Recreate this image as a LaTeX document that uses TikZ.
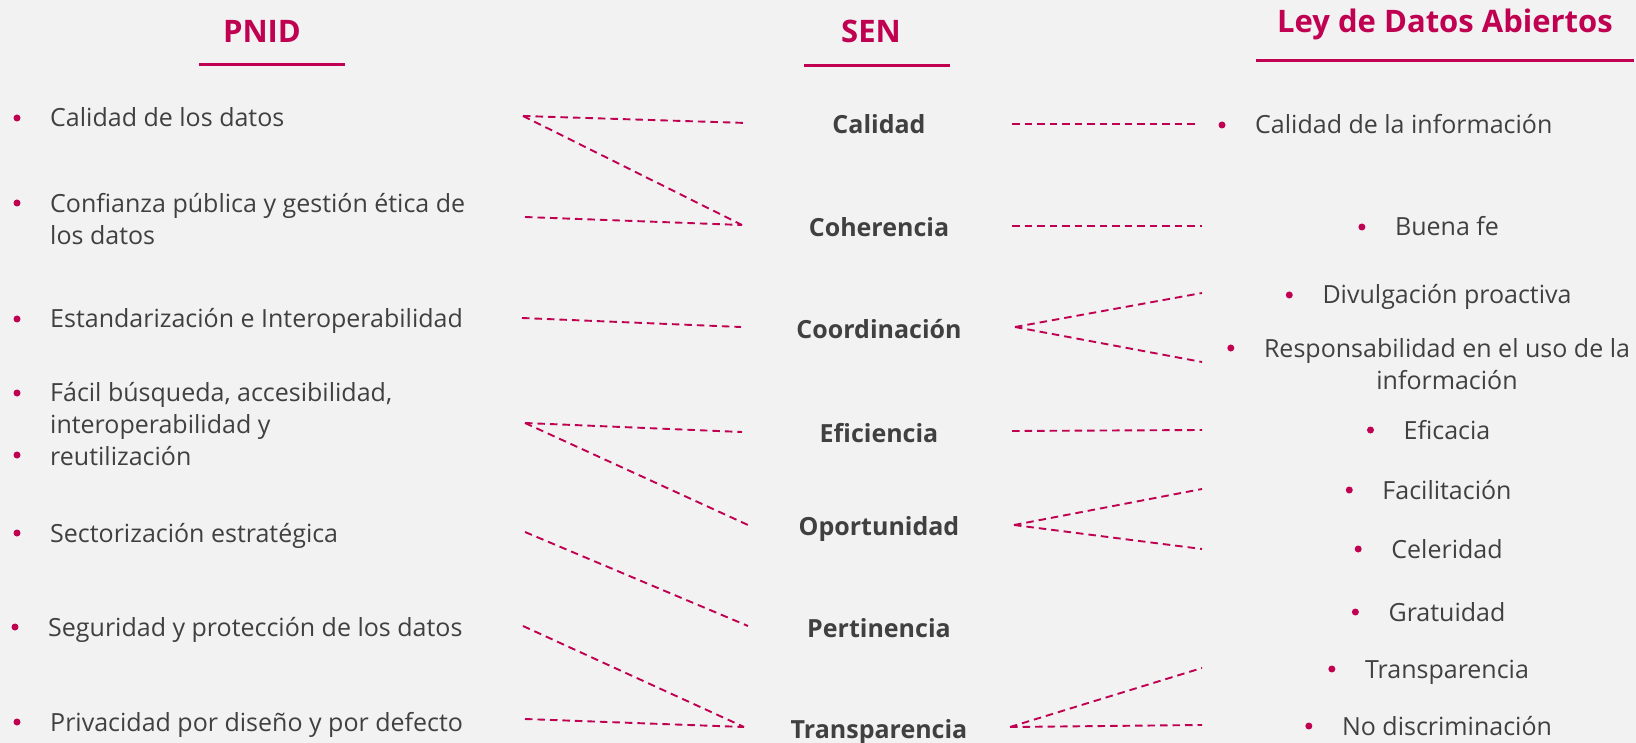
\documentclass[tikz,border=0pt]{standalone}
\usepackage{fontspec}
\setmainfont{Open Sans}
\definecolor{rosa}{RGB}{192,0,80}
\definecolor{gris}{RGB}{64,64,64}
\definecolor{fondo}{RGB}{242,242,242}
\tikzset{
    head/.style={text=rosa, font=\fontsize{31}{36}\selectfont\bfseries, inner sep=0pt, anchor=base},
    item/.style={text=gris, font=\fontsize{25}{32}\selectfont, inner sep=0pt},
    principio/.style={text=gris, font=\fontsize{25}{32}\selectfont\bfseries, inner sep=0pt, anchor=base},
    bul/.style={circle, fill=rosa, inner sep=0pt, minimum size=7pt},
    link/.style={rosa, line width=1.9pt, dash pattern=on 7.5pt off 5pt},
    rule/.style={rosa, line width=3pt}
}
\begin{document}
\begin{tikzpicture}[x=1pt, y=-1pt]
    \fill[fondo] (0,0) rectangle (1636,743);
    \useasboundingbox (0,0) rectangle (1636,743);
    % headers
    \node[head] (pnid) at (262, 43) {PNID};
    \node[head] (sen) at (871, 43) {SEN};
    \node[head] (ley) at (1445, 33) {Ley de Datos Abiertos};
    \draw[rule] (199, 65) -- (345, 65);
    \draw[rule] (804, 66) -- (950, 66);
    \draw[rule] (1256, 61) -- (1634, 61);
    % PNID
    \node[item, anchor=base west] (p1) at (50, 127) {Calidad de los datos};
    \node[item, anchor=base west, align=left] (p2) at (50, 245) {Confianza pública y gestión ética de\\los datos};
    \node[item, anchor=base west] (p3) at (50, 328) {Estandarización e Interoperabilidad};
    \node[item, anchor=base west, align=left] (p4) at (50, 465) {Fácil búsqueda, accesibilidad,\\interoperabilidad y\\reutilización};
    \node[item, anchor=base west] (p5) at (50, 542) {Sectorización estratégica};
    \node[item, anchor=base west] (p6) at (48, 636) {Seguridad y protección de los datos};
    \node[item, anchor=base west] (p7) at (50, 731) {Privacidad por diseño y por defecto};
    \node[bul] (bp1) at (17, 118) {};
    \node[bul] (bp2) at (17, 203) {};
    \node[bul] (bp3) at (17, 319) {};
    \node[bul] (bp4) at (17, 393) {};
    \node[bul] (bp4b) at (17, 455) {};
    \node[bul] (bp5) at (17, 533) {};
    \node[bul] (bp6) at (15, 627) {};
    \node[bul] (bp7) at (17, 722) {};
    % SEN
    \node[principio] (s1) at (879, 134) {Calidad};
    \node[principio] (s2) at (879, 237) {Coherencia};
    \node[principio] (s3) at (879, 338) {Coordinación};
    \node[principio] (s4) at (879, 442) {Eficiencia};
    \node[principio] (s5) at (879, 535) {Oportunidad};
    \node[principio] (s6) at (879, 637) {Pertinencia};
    \node[principio] (s7) at (879, 738) {Transparencia};
    % Ley de Datos Abiertos
    \node[item, anchor=base west] (l1) at (1255, 134) {Calidad de la información};
    \node[item, anchor=base] (l2) at (1447, 236) {Buena fe};
    \node[item, anchor=base] (l3) at (1447, 304) {Divulgación proactiva};
    \node[item, anchor=base, align=center] (l4) at (1447, 389) {Responsabilidad en el uso de la\\información};
    \node[item, anchor=base] (l5) at (1447, 439) {Eficacia};
    \node[item, anchor=base] (l6) at (1447, 499) {Facilitación};
    \node[item, anchor=base] (l7) at (1447, 558) {Celeridad};
    \node[item, anchor=base] (l8) at (1447, 621) {Gratuidad};
    \node[item, anchor=base] (l9) at (1447, 678) {Transparencia};
    \node[item, anchor=base] (l10) at (1447, 735) {No discriminación};
    \node[bul] (bl1) at (1222, 125) {};
    \node[bul] (bl4) at ([xshift=-33pt, yshift=41pt]l4.base west) {};
    \foreach \i in {2,3,5,6,7,8,9,10}
        \node[bul] (bl\i) at ([xshift=-33pt, yshift=9pt]l\i.base west) {};
    % connector ends
    \coordinate (pe1) at (523, 116);
    \coordinate (pe2) at (525, 217);
    \coordinate (pe3) at (522, 318);
    \coordinate (pe4) at (525, 423);
    \coordinate (pe5) at (525, 532);
    \coordinate (pe6) at (523, 626);
    \coordinate (pe7) at (525, 719);
    \coordinate (sw1) at (747, 123);
    \coordinate (sw2) at (742, 225);
    \coordinate (sw3) at (741, 327);
    \coordinate (sw4) at (742, 432);
    \coordinate (sw5) at (748, 525);
    \coordinate (sw6) at (748, 626);
    \coordinate (sw7) at (744, 727);
    \coordinate (se1) at (1012, 124);
    \coordinate (se2) at (1012, 226);
    \coordinate (se3) at (1015, 327);
    \coordinate (se4) at (1012, 431);
    \coordinate (se5) at (1014, 525);
    \coordinate (se7) at (1010, 727);
    \coordinate (lw1) at (1199, 124);
    \coordinate (lw2) at (1202, 226);
    \coordinate (lw3) at (1202, 293);
    \coordinate (lw4) at (1202, 362);
    \coordinate (lw5) at (1202, 430);
    \coordinate (lw6) at (1202, 489);
    \coordinate (lw7) at (1202, 549);
    \coordinate (lw9) at (1202, 668);
    \coordinate (lw10) at (1202, 725);
    % PNID -> SEN
    \draw[link] (pe1) to (sw1);
    \draw[link] (pe1) to (sw2);
    \draw[link] (pe2) to (sw2);
    \draw[link] (pe3) to (sw3);
    \draw[link] (pe4) to (sw4);
    \draw[link] (pe4) to (sw5);
    \draw[link] (pe5) to (sw6);
    \draw[link] (pe6) to (sw7);
    \draw[link] (pe7) to (sw7);
    % SEN -> Ley
    \draw[link] (se1) to (lw1);
    \draw[link] (se2) to (lw2);
    \draw[link] (se3) to (lw3);
    \draw[link] (se3) to (lw4);
    \draw[link] (se4) to (lw5);
    \draw[link] (se5) to (lw6);
    \draw[link] (se5) to (lw7);
    \draw[link] (se7) to (lw9);
    \draw[link] (se7) to (lw10);
\end{tikzpicture}
\end{document}
